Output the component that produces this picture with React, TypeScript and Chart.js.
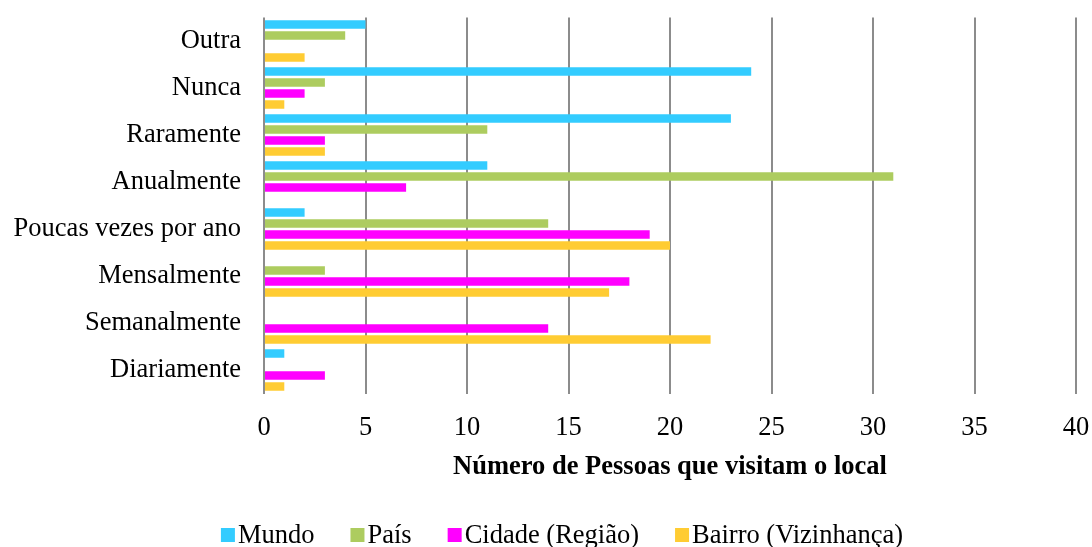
import React, { useEffect, useRef } from "react";
import { Chart, registerables } from "chart.js";

Chart.register(...registerables);

const categories = [
  "Outra",
  "Nunca",
  "Raramente",
  "Anualmente",
  "Poucas vezes por ano",
  "Mensalmente",
  "Semanalmente",
  "Diariamente",
];
const seriesNames = ["Mundo", "País", "Cidade (Região)", "Bairro (Vizinhança)"];
const mundo = [5, 24, 23, 11, 2, 0, 0, 1];
const pais = [4, 3, 11, 31, 14, 3, 0, 0];
const cidade = [0, 2, 3, 7, 19, 18, 14, 3];
const bairro = [2, 1, 3, 0, 20, 17, 22, 1];
const colors = ["#33CCFF", "#ADCC5F", "#FF00FF", "#FFCC33"];
const xTitle = "Número de Pessoas que visitam o local";

const FONT = "'Liberation Serif', 'Times New Roman', serif";
const FS = 26.5;

const legendPlugin = {
  id: "customLegend",
  afterDraw(chart: any) {
    const ctx = chart.ctx;
    ctx.save();
    ctx.font = `${FS}px ${FONT}`;
    const box = 14;
    const gapBox = 3;
    const gapItem = 36;
    const widths = seriesNames.map((s) => ctx.measureText(s).width);
    const total =
      widths.reduce((a, w) => a + box + gapBox + w, 0) + gapItem * (seriesNames.length - 1);
    let x = 562 - total / 2;
    const baseline = 543;
    ctx.textBaseline = "alphabetic";
    ctx.textAlign = "left";
    seriesNames.forEach((s, i) => {
      ctx.fillStyle = colors[i];
      ctx.fillRect(x, baseline - 15, box, box);
      x += box + gapBox;
      ctx.fillStyle = "#000";
      ctx.fillText(s, x, baseline);
      x += widths[i] + gapItem;
    });
    ctx.restore();
  },
};

export default function App() {
  const ref = useRef<HTMLCanvasElement | null>(null);
  useEffect(() => {
    if (!ref.current) return;
    const data = [mundo, pais, cidade, bairro];
    const chart = new Chart(ref.current, {
      type: "bar",
      data: {
        labels: categories,
        datasets: seriesNames.map((name, i) => ({
          label: name,
          data: data[i],
          backgroundColor: colors[i],
          borderWidth: 0,
          categoryPercentage: 0.94,
          barPercentage: 0.77,
        })),
      },
      options: {
        indexAxis: "y",
        responsive: false,
        animation: false,
        devicePixelRatio: 1,
        layout: { padding: { top: 17.5, right: 16, bottom: 64, left: 0 } },
        plugins: {
          legend: { display: false },
          tooltip: { enabled: false },
        },
        scales: {
          x: {
            min: 0,
            max: 40,
            ticks: {
              stepSize: 5,
              color: "#000",
              font: { family: FONT, size: FS },
              padding: 19,
              maxRotation: 0,
            },
            grid: { color: "#8c8c8c", lineWidth: 2, drawTicks: false },
            border: { display: false },
            title: {
              display: true,
              text: xTitle,
              color: "#000",
              font: { family: FONT, size: FS, weight: "bold" },
              padding: { top: 9, bottom: 0 },
            },
            afterFit(scale: any) {
              scale.paddingLeft = 0;
              scale.paddingRight = 0;
              scale.height = 89.5;
            },
          },
          y: {
            grid: { display: false, drawTicks: false },
            border: { display: false },
            ticks: {
              color: "#000",
              font: { family: FONT, size: FS },
              padding: 23,
            },
            afterFit(scale: any) {
              scale.width = 264;
              scale.paddingTop = 0;
              scale.paddingBottom = 0;
            },
          },
        },
      },
      plugins: [legendPlugin],
    });
    return () => chart.destroy();
  }, []);
  return (
    <div style={{ position: "absolute", left: 0, top: 0, width: 1092, height: 547, background: "#fff" }}>
      <canvas ref={ref} width={1092} height={547} style={{ width: 1092, height: 547 }} />
    </div>
  );
}
